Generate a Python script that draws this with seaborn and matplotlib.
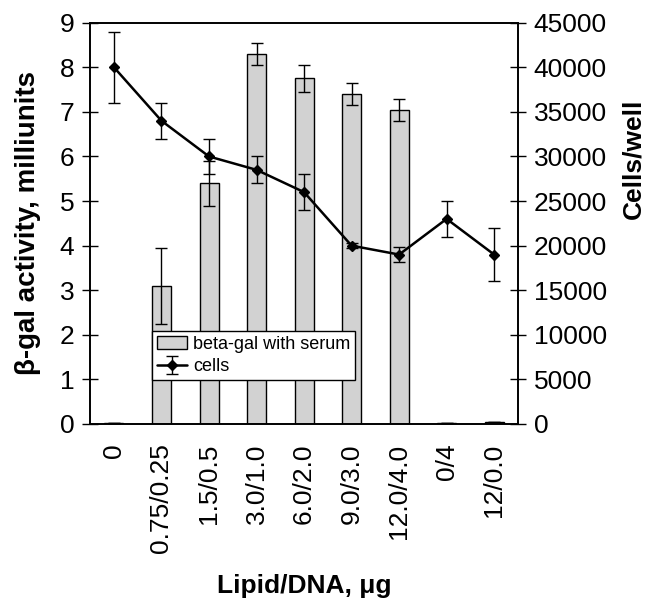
import numpy as np
import pandas as pd
import matplotlib
matplotlib.use("Agg")
import matplotlib.pyplot as plt
import seaborn as sns

doses = ["0", "0.75/0.25", "1.5/0.5", "3.0/1.0", "6.0/2.0", "9.0/3.0", "12.0/4.0", "0/4", "12/0.0"]
betagal = [0.02, 3.1, 5.4, 8.3, 7.75, 7.4, 7.05, 0.02, 0.04]
betagal_err = [0.0, 0.85, 0.5, 0.25, 0.3, 0.25, 0.25, 0.0, 0.0]
cells = [40000, 34000, 30000, 28500, 26000, 20000, 19000, 23000, 19000]
cells_err = [4000, 2000, 2000, 1500, 2000, 300, 800, 2000, 3000]

df = pd.DataFrame({"dose": doses, "betagal": betagal, "err": betagal_err,
                   "cells": cells, "cells_err": cells_err})

sns.set_style("white")
plt.rcParams["font.family"] = ["Liberation Sans", "DejaVu Sans"]
plt.rcParams.update({"text.color": "black", "axes.labelcolor": "black",
                     "xtick.color": "black", "ytick.color": "black"})

fig = plt.figure(figsize=(6.49, 5.98), dpi=100)
ax = fig.add_axes([0.139, 0.291, 0.659, 0.671])

sns.barplot(data=df, x="dose", y="betagal", order=doses, color="#d2d2d2",
            edgecolor="black", linewidth=1, width=0.4, saturation=1,
            errorbar=None, ax=ax, label="beta-gal with serum")
if ax.get_legend() is not None:
    ax.get_legend().remove()
xpos = np.arange(len(doses))
ax.errorbar(xpos, df["betagal"], yerr=df["err"], fmt="none", ecolor="black",
            elinewidth=1, capsize=4, capthick=1)

ax.set_ylim(0, 9)
ax.set_yticks(range(0, 10))
ax.set_xlim(-0.5, len(doses) - 0.5)
ax.set_xticks(xpos)
ax.set_xticklabels(doses, rotation=90)
ax.set_xticks(np.arange(-0.5, len(doses)), minor=True)
ax.tick_params(axis="x", which="major", length=0, labelsize=19, pad=14)
ax.tick_params(axis="x", which="minor", length=11, direction="inout", width=1)
ax.tick_params(axis="y", length=11, direction="inout", width=1, labelsize=19, left=True, pad=6)
ax.set_ylabel("β-gal activity, milliunits", fontsize=20, fontweight="bold", labelpad=13)
ax.set_xlabel("Lipid/DNA, μg", fontsize=19, fontweight="bold", labelpad=15)
for s in ax.spines.values():
    s.set_color("black")
    s.set_linewidth(1.2)

ax2 = ax.twinx()
ax2.errorbar(xpos, df["cells"], yerr=df["cells_err"], color="black", lw=1.8,
             marker="D", markersize=5, ecolor="black", elinewidth=1,
             capsize=4, capthick=1, label="cells")
ax2.set_ylim(0, 45000)
ax2.set_yticks(range(0, 45001, 5000))
ax2.tick_params(axis="y", length=11, direction="inout", width=1, labelsize=19, right=True, pad=6)
ax2.set_ylabel("Cells/well", fontsize=19, fontweight="bold", labelpad=10)
ax2.yaxis.label.set_y(0.66)
ax2.grid(False)
for s in ax2.spines.values():
    s.set_color("black")
    s.set_linewidth(1.2)

h1, l1 = ax.get_legend_handles_labels()
h2, l2 = ax2.get_legend_handles_labels()
leg = ax2.legend(h1 + h2, l1 + l2, loc="lower left", bbox_to_anchor=(0.145, 0.11),
                 fontsize=13, frameon=True, fancybox=False, edgecolor="black",
                 framealpha=1, borderpad=0.25, handlelength=1.7, handletextpad=0.3,
                 labelspacing=0.3, borderaxespad=0)
leg.get_frame().set_linewidth(1)

fig.savefig("out.png", dpi=100)
